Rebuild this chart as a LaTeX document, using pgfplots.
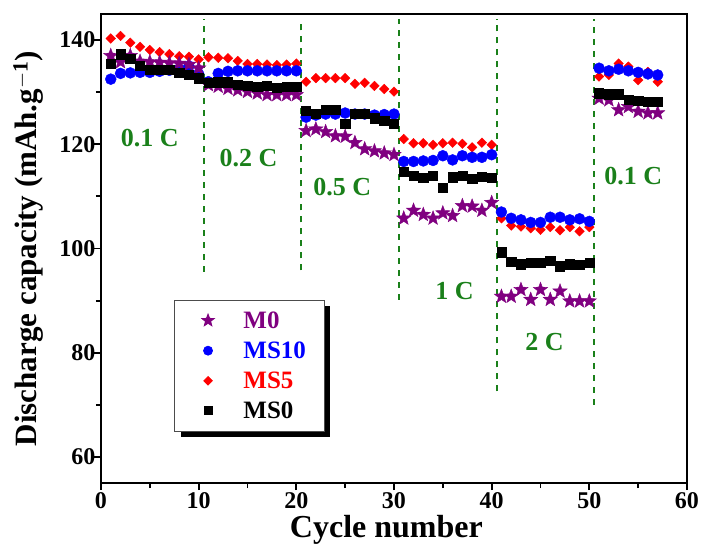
\documentclass[border=0pt]{standalone}
\usepackage{fontspec}
\setmainfont{Liberation Serif}
\usepackage{pgfplots}
\pgfplotsset{compat=1.18}
\usepackage{pgfplotstable}
\usetikzlibrary{shadows}
\definecolor{mpurple}{HTML}{800080}
\definecolor{mgreen}{HTML}{1A801A}

\pgfdeclareplotmark{fstar}{%
  \pgfpathmoveto{\pgfqpointpolar{90}{\pgfplotmarksize}}%
  \pgfpathlineto{\pgfqpointpolar{126}{0.42\pgfplotmarksize}}%
  \pgfpathlineto{\pgfqpointpolar{162}{\pgfplotmarksize}}%
  \pgfpathlineto{\pgfqpointpolar{198}{0.42\pgfplotmarksize}}%
  \pgfpathlineto{\pgfqpointpolar{234}{\pgfplotmarksize}}%
  \pgfpathlineto{\pgfqpointpolar{270}{0.42\pgfplotmarksize}}%
  \pgfpathlineto{\pgfqpointpolar{306}{\pgfplotmarksize}}%
  \pgfpathlineto{\pgfqpointpolar{342}{0.42\pgfplotmarksize}}%
  \pgfpathlineto{\pgfqpointpolar{18}{\pgfplotmarksize}}%
  \pgfpathlineto{\pgfqpointpolar{54}{0.42\pgfplotmarksize}}%
  \pgfpathclose
  \pgfusepathqfillstroke}

\pgfplotstableread{
x y
1 137.0
2 135.8
3 137.0
4 135.9
5 135.8
6 135.7
7 135.6
8 135.5
9 135.3
10 134.6
11 131.4
12 131.1
13 130.7
14 130.4
15 130.1
16 129.8
17 129.5
18 129.5
19 129.5
20 129.5
21 122.6
22 122.9
23 122.4
24 121.6
25 121.5
26 120.3
27 119.1
28 118.7
29 118.3
30 118.0
31 105.8
32 107.3
33 106.5
34 105.8
35 106.8
36 106.3
37 108.2
38 108.1
39 107.3
40 108.8
41 90.8
42 90.8
43 92.1
44 90.2
45 92.1
46 90.2
47 91.8
48 89.9
49 89.9
50 89.9
51 128.8
52 128.5
53 126.6
54 127.2
55 126.3
56 126.0
57 126.0
}\tabMzero

\pgfplotstableread{
x y
1 132.5
2 133.6
3 133.7
4 133.8
5 133.8
6 134.0
7 134.2
8 134.4
9 135.0
10 133.5
11 132.0
12 133.6
13 134.0
14 134.1
15 134.1
16 134.1
17 134.1
18 134.1
19 134.1
20 134.1
21 125.2
22 125.6
23 125.8
24 125.8
25 126.0
26 125.8
27 125.8
28 125.6
29 125.7
30 125.8
31 116.7
32 116.7
33 116.8
34 116.9
35 117.8
36 117.0
37 117.8
38 117.5
39 117.5
40 118.0
41 107.0
42 105.8
43 105.5
44 105.0
45 105.0
46 106.0
47 106.0
48 105.5
49 105.7
50 105.2
51 134.6
52 134.1
53 134.4
54 134.1
55 133.8
56 133.5
57 133.3
}\tabMSten

\pgfplotstableread{
x y
1 140.3
2 140.8
3 139.5
4 138.7
5 138.1
6 137.7
7 137.3
8 136.9
9 136.8
10 136.3
11 136.7
12 136.6
13 136.5
14 136.0
15 135.4
16 135.4
17 135.3
18 135.2
19 135.3
20 135.5
21 132.0
22 132.7
23 132.7
24 132.7
25 132.7
26 131.6
27 131.8
28 131.2
29 130.6
30 130.1
31 121.0
32 120.2
33 120.2
34 119.9
35 120.2
36 120.3
37 120.1
38 119.4
39 120.3
40 119.9
41 105.8
42 104.4
43 104.2
44 103.9
45 103.6
46 104.1
47 103.5
48 104.1
49 103.3
50 104.1
51 133.0
52 133.3
53 135.5
54 134.9
55 132.3
56 133.9
57 132.0
}\tabMSfive

\pgfplotstableread{
x y
1 135.5
2 137.3
3 136.4
4 135.1
5 134.3
6 134.3
7 134.3
8 133.7
9 133.4
10 132.7
11 131.8
12 131.9
13 131.9
14 131.4
15 131.2
16 131.1
17 131.2
18 130.9
19 131.1
20 131.1
21 126.5
22 125.8
23 126.7
24 126.7
25 124.0
26 125.8
27 125.8
28 125.0
29 124.5
30 124.0
31 114.8
32 113.9
33 113.6
34 114.0
35 111.7
36 113.7
37 114.0
38 113.4
39 113.8
40 113.6
41 99.3
42 97.4
43 97.0
44 97.2
45 97.3
46 97.7
47 96.6
48 97.0
49 96.9
50 97.2
51 129.8
52 129.6
53 129.6
54 128.5
55 128.4
56 128.1
57 128.1
}\tabMSzero

\begin{document}
\begin{tikzpicture}
\useasboundingbox (-101pt,-67pt) rectangle (601pt,483pt);
\begin{axis}[
  at={(0pt,0pt)}, anchor=south west,
  scale only axis,
  width=586pt, height=469pt,
  xmin=0, xmax=60, ymin=55, ymax=145,
  xtick={0,10,...,60}, ytick={60,80,...,140},
  minor xtick={5,15,...,55}, minor ytick={70,90,...,130},
  tick align=outside,
  xtick pos=left, ytick pos=left,
  major tick length=7pt, minor tick length=5pt,
  every tick/.style={black, line width=1.8pt},
  axis line style={line width=1.8pt},
  /pgf/number format/assume math mode=true,
  tick label style={font=\fontsize{24}{28}\selectfont\bfseries},
  yticklabel style={xshift=5pt},
  xticklabel style={yshift=1pt},
  xlabel={Cycle number},
  ylabel={Discharge capacity (mAh.g$^{\mathbf{-1}}$)},
  label style={font=\fontsize{32}{36}\selectfont\bfseries},
  xlabel style={at={(axis description cs:0.487,-0.1)}, anchor=center},
  ylabel style={at={(axis description cs:-0.124,0.5)}, anchor=center, font=\fontsize{31}{36}\selectfont\bfseries},
  legend style={
    at={(0.125,0.39)}, anchor=north west,
    draw=gray!60!black, line width=0.8pt, fill=white,
    drop shadow={shadow xshift=6pt, shadow yshift=-6pt, opacity=1, fill=black},
    font=\fontsize{25}{29}\selectfont\bfseries,
    row sep=8pt, inner xsep=16pt, inner ysep=9pt,
    /tikz/every odd column/.append style={column sep=26pt},
  },
  legend cell align=left,
  legend image code/.code={\path (0pt,0pt); \path (24pt,0pt); \draw[#1] plot coordinates {(17pt,0pt)};},
]
% dashed separators
\addplot[mgreen, line width=2pt, dash pattern=on 6pt off 6pt, forget plot] coordinates {(10.5,95.5) (10.5,144)};
\addplot[mgreen, line width=2pt, dash pattern=on 6pt off 6pt, forget plot] coordinates {(20.5,95.8) (20.5,144)};
\addplot[mgreen, line width=2pt, dash pattern=on 6pt off 6pt, forget plot] coordinates {(30.5,90.2) (30.5,144)};
\addplot[mgreen, line width=2pt, dash pattern=on 6pt off 6pt, forget plot] coordinates {(40.5,72.6) (40.5,144)};
\addplot[mgreen, line width=2pt, dash pattern=on 6pt off 6pt, forget plot] coordinates {(50.5,70) (50.5,144)};

\addplot[only marks, mark=square*, mark size=3.4pt, mark options={rotate=45, fill=red, draw=red}, forget plot] table {\tabMSfive};
\addplot[only marks, mark=*, mark size=5.5pt, mark options={fill=blue, draw=blue}, forget plot] table {\tabMSten};
\addplot[only marks, mark=fstar, mark size=7.5pt, mark options={fill=mpurple, draw=mpurple, line width=0.4pt}, forget plot] table {\tabMzero};
\addplot[only marks, mark=square*, mark size=4.6pt, mark options={fill=black, draw=black}, forget plot] table {\tabMSzero};

\addlegendimage{only marks, mark=fstar, mark size=6.5pt, mark options={fill=mpurple, draw=mpurple}}
\addlegendentry{\textcolor{mpurple}{M0}}
\addlegendimage{only marks, mark=*, mark size=4.5pt, mark options={fill=blue, draw=blue}}
\addlegendentry{\textcolor{blue}{MS10}}
\addlegendimage{only marks, mark=square*, mark size=3pt, mark options={rotate=45, fill=red, draw=red}}
\addlegendentry{\textcolor{red}{MS5}}
\addlegendimage{only marks, mark=square*, mark size=4pt, mark options={fill=black, draw=black}}
\addlegendentry{\textcolor{black}{MS0}}

\node[mgreen, font=\fontsize{26}{30}\selectfont\bfseries] at (axis cs:5,121.2) {0.1 C};
\node[mgreen, font=\fontsize{26}{30}\selectfont\bfseries] at (axis cs:15.1,117.4) {0.2 C};
\node[mgreen, font=\fontsize{26}{30}\selectfont\bfseries] at (axis cs:24.7,111.8) {0.5 C};
\node[mgreen, font=\fontsize{26}{30}\selectfont\bfseries] at (axis cs:36.2,91.9) {1 C};
\node[mgreen, font=\fontsize{26}{30}\selectfont\bfseries] at (axis cs:45.4,82.1) {2 C};
\node[mgreen, font=\fontsize{26}{30}\selectfont\bfseries] at (axis cs:54.5,114) {0.1 C};
\end{axis}
\end{tikzpicture}
\end{document}
